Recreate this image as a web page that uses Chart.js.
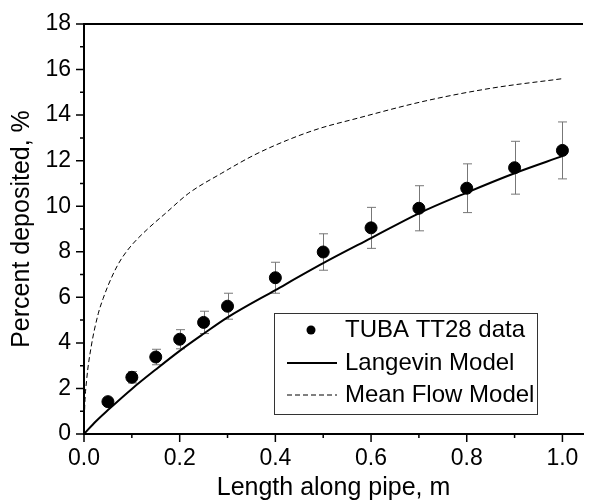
<!DOCTYPE html>
<html>
<head>
<meta charset="utf-8">
<script src="https://cdn.jsdelivr.net/npm/chart.js@4.4.0/dist/chart.umd.min.js"></script>
<style>
  html, body { margin: 0; padding: 0; background: #fff; }
  #wrap { width: 590px; height: 503px; }
</style>
</head>
<body>
<div id="wrap"><canvas id="chart" width="590" height="503"></canvas></div>
<script>
// measured data (TUBA TT28) with error bars
var dataX = [0.05, 0.10, 0.15, 0.20, 0.25, 0.30, 0.40, 0.50, 0.60, 0.70, 0.80, 0.90, 1.00];
var dataY = [1.42, 2.49, 3.38, 4.16, 4.90, 5.61, 6.86, 7.99, 9.05, 9.91, 10.79, 11.69, 12.45];
var dataErr = [0.12, 0.25, 0.34, 0.42, 0.49, 0.57, 0.68, 0.80, 0.90, 0.99, 1.07, 1.16, 1.25];

// Langevin model curve
var langX = [0, 0.025, 0.05, 0.10, 0.15, 0.20, 0.25, 0.30, 0.40, 0.50, 0.60, 0.70, 0.80, 0.90, 1.00];
var langY = [0, 0.56, 1.05, 1.98, 2.83, 3.65, 4.40, 5.12, 6.32, 7.50, 8.60, 9.69, 10.60, 11.45, 12.20];

// Mean flow model curve
var flowX = [0, 0.0015, 0.0055, 0.015, 0.03, 0.04, 0.05, 0.06, 0.07, 0.08, 0.10, 0.133, 0.171, 0.219,
             0.287, 0.356, 0.425, 0.493, 0.562, 0.713, 0.851, 1.00];
var flowY = [0, 1.2, 2.37, 3.83, 5.3, 5.95, 6.5, 6.98, 7.4, 7.75, 8.3, 9.0, 9.7, 10.57,
             11.44, 12.25, 12.9, 13.42, 13.81, 14.62, 15.18, 15.6];

var legendLabels = ['TUBA TT28 data', 'Langevin Model', 'Mean Flow Model'];

function pts(xs, ys) {
  return xs.map(function (x, i) { return { x: x, y: ys[i] }; });
}

var FONT = "'Liberation Sans', Arial, sans-serif";

// error bars behind the markers
var errorBars = {
  id: 'errorBars',
  beforeDatasetsDraw: function (chart) {
    var ctx = chart.ctx, xs = chart.scales.x, ys = chart.scales.y;
    ctx.save();
    ctx.strokeStyle = '#777';
    ctx.lineWidth = 1;
    dataX.forEach(function (x, i) {
      var px = Math.round(xs.getPixelForValue(x)) + 0.5;
      var top = ys.getPixelForValue(dataY[i] + dataErr[i]);
      var bot = ys.getPixelForValue(dataY[i] - dataErr[i]);
      ctx.beginPath();
      ctx.moveTo(px, top); ctx.lineTo(px, bot);
      ctx.moveTo(px - 4.5, top); ctx.lineTo(px + 4.5, top);
      ctx.moveTo(px - 4.5, bot); ctx.lineTo(px + 4.5, bot);
      ctx.stroke();
    });
    ctx.restore();
  }
};

// major/minor ticks, top frame line and boxed legend
var frame = {
  id: 'frame',
  afterDraw: function (chart) {
    var ctx = chart.ctx, a = chart.chartArea;
    var xs = chart.scales.x, ys = chart.scales.y;
    ctx.save();
    ctx.strokeStyle = '#000';
    ctx.lineWidth = 1.5;
    ctx.beginPath();
    xs.ticks.forEach(function (t) {
      var px = xs.getPixelForValue(t.value);
      var major = Math.round(t.value * 10) % 2 === 0;
      ctx.moveTo(px, a.bottom); ctx.lineTo(px, a.bottom + (major ? 8 : 4));
    });
    ys.ticks.forEach(function (t) {
      var py = ys.getPixelForValue(t.value);
      var major = Math.round(t.value) % 2 === 0;
      ctx.moveTo(a.left, py); ctx.lineTo(a.left - (major ? 8 : 4), py);
    });
    ctx.stroke();
    ctx.lineWidth = 2;
    ctx.beginPath();
    ctx.moveTo(a.left - 1, a.top); ctx.lineTo(a.right, a.top);
    ctx.stroke();

    // legend box
    var bx = a.left + 190, by = a.top + 289, bw = 263, bh = 101;
    ctx.fillStyle = '#fff';
    ctx.fillRect(bx, by, bw, bh);
    ctx.lineWidth = 1;
    ctx.strokeStyle = '#333';
    ctx.strokeRect(bx + 0.5, by + 0.5, bw, bh);
    var rows = [by + 17, by + 50, by + 82];
    var ds = chart.data.datasets;
    ctx.fillStyle = '#000';
    ctx.beginPath();
    ctx.arc(bx + 37, rows[0], 4.5, 0, Math.PI * 2);
    ctx.fill();
    ctx.strokeStyle = '#000';
    ctx.lineWidth = ds[1].borderWidth;
    ctx.beginPath();
    ctx.moveTo(bx + 13, rows[1]); ctx.lineTo(bx + 63, rows[1]);
    ctx.stroke();
    ctx.lineWidth = ds[2].borderWidth;
    ctx.setLineDash(ds[2].borderDash);
    ctx.beginPath();
    ctx.moveTo(bx + 13, rows[2]); ctx.lineTo(bx + 63, rows[2]);
    ctx.stroke();
    ctx.setLineDash([]);
    ctx.font = '24px ' + FONT;
    ctx.textBaseline = 'middle';
    ctx.textAlign = 'left';
    legendLabels.forEach(function (lab, i) {
      ctx.fillText(lab, bx + 71, rows[i]);
    });
    ctx.restore();
  }
};

var config = {
  type: 'scatter',
  data: {
    datasets: [{
      label: legendLabels[0],
      data: pts(dataX, dataY),
      showLine: false,
      pointRadius: 6,
      pointBackgroundColor: '#000',
      pointBorderColor: '#000',
      order: 0
    }, {
      label: legendLabels[1],
      data: pts(langX, langY),
      showLine: true,
      pointRadius: 0,
      borderColor: '#000',
      borderWidth: 2,
      cubicInterpolationMode: 'monotone',
      order: 1
    }, {
      label: legendLabels[2],
      data: pts(flowX, flowY),
      showLine: true,
      pointRadius: 0,
      borderColor: '#000',
      borderWidth: 1,
      borderDash: [5, 3],
      cubicInterpolationMode: 'monotone',
      order: 2
    }]
  },
  options: {
    responsive: false,
    animation: false,
    layout: { padding: { top: 24, right: 0, bottom: 0, left: 0 } },
    plugins: {
      legend: { display: false },
      tooltip: { enabled: false }
    },
    scales: {
      x: {
        type: 'linear',
        min: 0,
        max: 1.043,
        afterFit: function (s) { s.height = 69; },
        border: { display: true, color: '#000', width: 2 },
        grid: { display: false, drawTicks: true, tickLength: 8 },
        ticks: {
          stepSize: 0.1,
          includeBounds: false,
          autoSkip: false,
          maxRotation: 0,
          padding: 3,
          color: '#000',
          font: { family: FONT, size: 23 },
          callback: function (v) { return Math.round(v * 10) % 2 === 0 ? v.toFixed(1) : ''; }
        },
        title: {
          display: true,
          text: 'Length along pipe, m',
          color: '#000',
          font: { family: FONT, size: 25 },
          padding: { top: 0, bottom: 0 }
        }
      },
      y: {
        type: 'linear',
        min: 0,
        max: 18,
        afterFit: function (s) { s.width = 84; },
        border: { display: true, color: '#000', width: 2 },
        grid: { display: false, drawTicks: true, tickLength: 8 },
        ticks: {
          stepSize: 1,
          autoSkip: false,
          padding: 5,
          color: '#000',
          font: { family: FONT, size: 23 },
          callback: function (v) { return v % 2 === 0 ? String(v) : ''; }
        },
        title: {
          display: true,
          text: 'Percent deposited, %',
          color: '#000',
          font: { family: FONT, size: 25 },
          padding: { top: 7, bottom: 0 }
        }
      }
    }
  },
  plugins: [errorBars, frame]
};

window.onload = function () {
  var ctx = document.getElementById('chart').getContext('2d');
  window.myChart = new Chart(ctx, config);
};
</script>
</body>
</html>
